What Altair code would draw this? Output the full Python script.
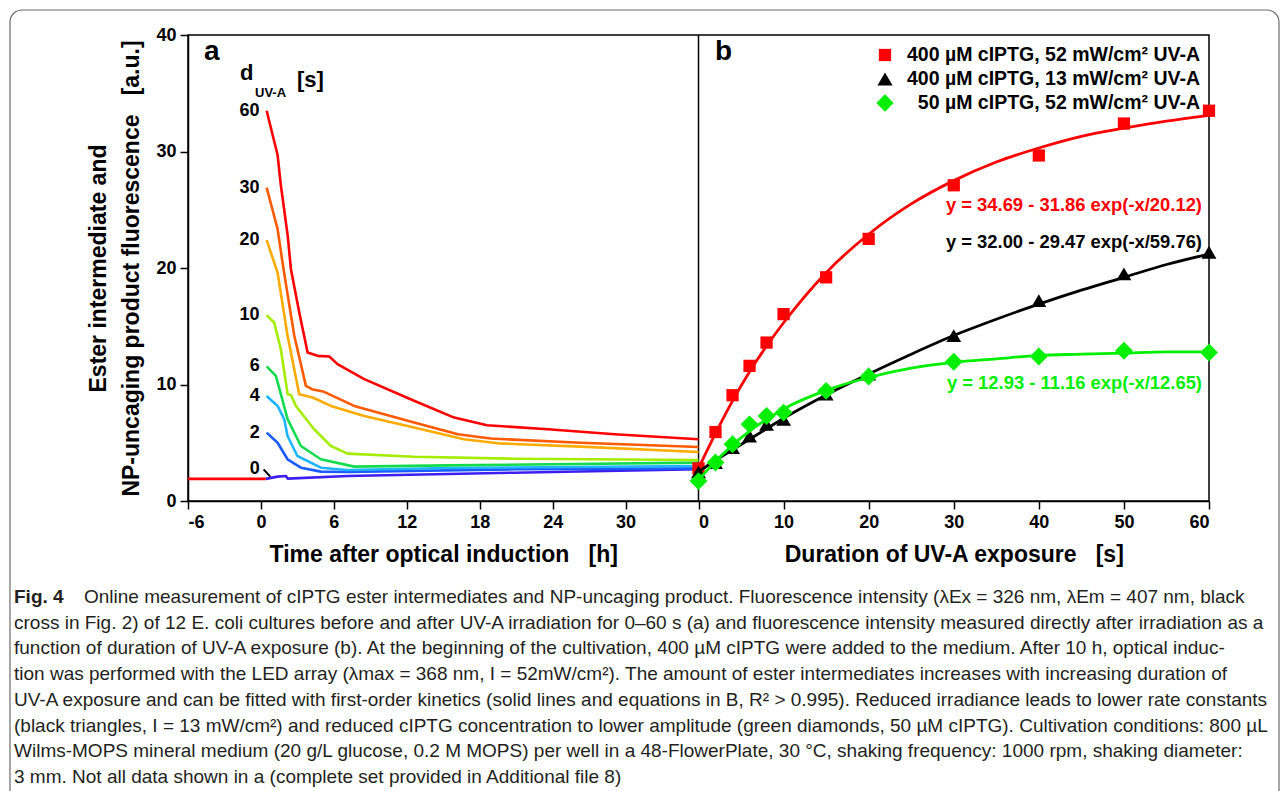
import altair as alt
import pandas as pd

# ---------------- data: panel a (time courses) ----------------
series_names = ["0", "2", "4", "6", "10", "20", "30", "60"]
t_0 = [0.4, 1.37, 2.06, 2.2, 7.13, 20.8, 36.0]
v_0 = [1.9, 2.09, 2.15, 1.92, 2.14, 2.43, 2.72]
t_2 = [0.47, 1.37, 2.19, 3.29, 4.93, 7.13, 20.8, 36.0]
v_2 = [5.87, 5.0, 3.58, 2.86, 2.52, 2.5, 2.72, 2.8]
t_4 = [0.47, 1.37, 1.92, 2.19, 3.0, 4.93, 7.13, 15.35, 36.0]
v_4 = [9.02, 8.16, 7.0, 5.58, 3.86, 2.86, 2.66, 2.83, 3.0]
t_6 = [0.47, 1.23, 1.64, 2.2, 3.29, 4.93, 7.67, 15.35, 36.0]
v_6 = [11.55, 10.74, 9.17, 7.0, 4.72, 3.58, 2.95, 3.06, 3.29]
t_10 = [0.47, 1.1, 1.64, 2.2, 2.47, 2.88, 4.38, 5.76, 7.13, 12.6, 20.8, 36.0]
v_10 = [15.96, 15.3, 13.0, 9.17, 9.1, 8.16, 6.16, 4.72, 4.07, 3.8, 3.63, 3.52]
t_20 = [0.47, 1.37, 2.19, 3.15, 4.25, 5.76, 8.5, 12.6, 16.7, 19.5, 26.3, 36.0]
v_20 = [22.4, 19.6, 14.2, 9.17, 8.88, 8.16, 7.3, 6.3, 5.3, 4.95, 4.67, 4.2]
t_30 = [0.47, 1.37, 1.86, 2.74, 3.7, 4.2, 5.2, 7.67, 12.6, 16.2, 18.9, 26.3, 36.0]
v_30 = [26.9, 23.35, 19.9, 14.2, 9.88, 9.6, 9.37, 8.16, 6.73, 5.73, 5.36, 5.0, 4.63]
t_60 = [0.47, 1.37, 1.64, 2.2, 2.47, 3.15, 3.84, 4.66, 5.62, 6.3, 8.5, 12.6, 15.9, 18.6, 23.6, 29.1, 36.0]
v_60 = [33.5, 29.7, 27.1, 22.8, 19.9, 16.2, 12.75, 12.46, 12.4, 11.75, 10.46, 8.6, 7.16, 6.5, 6.16, 5.73, 5.3]
t_pre = [-6.0, 0.4]
v_pre = [1.9, 1.9]
zero_mark_t = [0.22, 0.77]
zero_mark_v = [2.72, 2.09]

# ---------------- data: panel b (UV-A exposure) ----------------
x_meas = [0, 2, 4, 6, 8, 10, 15, 20, 30, 40, 50, 60]
red_meas = [2.8, 5.92, 9.08, 11.6, 13.6, 16.04, 19.2, 22.5, 27.1, 29.66, 32.4, 33.5]
black_meas = [2.5, 3.3, 4.58, 5.58, 6.58, 7.0, 9.17, 10.9, 14.2, 17.2, 19.5, 21.35]
green_meas = [1.71, 3.3, 4.87, 6.58, 7.3, 7.59, 9.45, 10.69, 11.95, 12.4, 12.9, 12.75]

x_fit = [0, 2, 4, 6, 8, 10, 15, 20, 25, 30, 35, 40, 45, 50, 55, 60]
red_fit = [2.8, 5.8, 8.6, 11.1, 13.3, 15.3, 19.6, 22.9, 25.5, 27.5, 29.1, 30.3, 31.3, 32.0, 32.6, 33.1]
black_fit = [2.5, 3.5, 4.4, 5.3, 6.2, 7.1, 9.1, 10.9, 12.6, 14.2, 15.6, 16.9, 18.1, 19.2, 20.3, 21.2]
green_fit = [1.8, 3.4, 4.8, 6.0, 7.0, 7.9, 9.5, 10.6, 11.4, 11.9, 12.2, 12.5, 12.6, 12.7, 12.8, 12.8]

legend_labels = ["400 µM cIPTG, 52 mW/cm² UV-A",
                 "400 µM cIPTG, 13 mW/cm² UV-A",
                 "50 µM cIPTG, 52 mW/cm² UV-A"]
equations = ["y = 34.69 - 31.86 exp(-x/20.12)",
             "y = 32.00 - 29.47 exp(-x/59.76)",
             "y = 12.93 - 11.16 exp(-x/12.65)"]

caption_lines = [
    "Online measurement of cIPTG ester intermediates and NP-uncaging product. Fluorescence intensity (λEx = 326 nm, λEm = 407 nm, black",
    "cross in Fig. 2) of 12 E. coli cultures before and after UV-A irradiation for 0–60 s (a) and fluorescence intensity measured directly after irradiation as a",
    "function of duration of UV-A exposure (b). At the beginning of the cultivation, 400 µM cIPTG were added to the medium. After 10 h, optical induc-",
    "tion was performed with the LED array (λmax = 368 nm, I = 52mW/cm²). The amount of ester intermediates increases with increasing duration of",
    "UV-A exposure and can be fitted with first-order kinetics (solid lines and equations in B, R² > 0.995). Reduced irradiance leads to lower rate constants",
    "(black triangles, I = 13 mW/cm²) and reduced cIPTG concentration to lower amplitude (green diamonds, 50 µM cIPTG). Cultivation conditions: 800 µL",
    "Wilms-MOPS mineral medium (20 g/L glucose, 0.2 M MOPS) per well in a 48-FlowerPlate, 30 °C, shaking frequency: 1000 rpm, shaking diameter:",
    "3 mm. Not all data shown in a (complete set provided in Additional file 8)",
]

# ---------------- layout constants ----------------
LEFT, TOP = 188, 35
W, H = 1021, 466
SPLIT = 510.5
FONT = "Liberation Sans, Arial, Helvetica, sans-serif"
NB = "\u00a0"

colors = {"0": "#3b1ff0", "2": "#1a5cff", "4": "#1fb4ff", "6": "#12dc4e",
          "10": "#a4ec00", "20": "#ffaa00", "30": "#ff5a00", "60": "#ff0000",
          "pre": "#ff0000"}

one = pd.DataFrame({"k": [0]})
HYPHEN_LABEL = "datum.value < 0 ? '-' + abs(datum.value) : datum.label"

y_enc = alt.Y(
    "v:Q",
    scale=alt.Scale(domain=[0, 40], nice=False, zero=False),
    axis=alt.Axis(values=[0, 10, 20, 30, 40],
                  title=["Ester intermediate and",
                         "NP-uncaging product fluorescence" + NB * 3 + "[a.u.]"],
                  titleX=98 - LEFT, titleY=H / 2, titleAngle=270,
                  titleAlign="center", titleBaseline="middle",
                  titleFontSize=23, titleLineHeight=33, labelPadding=4),
)
xa_enc = alt.X(
    "t:Q",
    scale=alt.Scale(domain=[-6, 36], range=[0, SPLIT], nice=False, zero=False),
    axis=alt.Axis(orient="bottom", values=[-6, 0, 6, 12, 18, 24, 30],
                  labelExpr=HYPHEN_LABEL,
                  title="Time after optical induction" + NB * 3 + "[h]",
                  titleY=60, titleBaseline="alphabetic", titleFontSize=23,
                  labelPadding=4),
)
xb_enc = alt.X(
    "x:Q",
    scale=alt.Scale(domain=[0, 60], range=[SPLIT, W], nice=False, zero=False),
    axis=alt.Axis(orient="bottom", values=[0, 10, 20, 30, 40, 50, 60],
                  title="Duration of UV-A exposure" + NB * 3 + "[s]",
                  titleY=60, titleBaseline="alphabetic", titleFontSize=23,
                  labelPadding=4),
)


def txt(text, x, y, size=18, weight="bold", color="black", align="left",
        baseline="middle", style="normal", font=FONT):
    return alt.Chart(one).mark_text(
        text=text, fontSize=size, fontWeight=weight, color=color, align=align,
        baseline=baseline, fontStyle=style, font=font,
    ).encode(x=alt.value(x - LEFT), y=alt.value(y - TOP))


# ---------------- panel a ----------------
a_series = {"0": (t_0, v_0), "2": (t_2, v_2), "4": (t_4, v_4), "6": (t_6, v_6),
            "10": (t_10, v_10), "20": (t_20, v_20), "30": (t_30, v_30),
            "60": (t_60, v_60), "pre": (t_pre, v_pre)}
a_layers = []
for name, (ts, vs) in a_series.items():
    df = pd.DataFrame({"t": ts, "v": vs})
    a_layers.append(
        alt.Chart(df).mark_line(color=colors[name], strokeWidth=2.6,
                                strokeJoin="round", strokeCap="butt")
        .encode(x=xa_enc, y=y_enc)
    )

lab_df = pd.DataFrame({
    "t": [a_series[n][0][0] for n in series_names if n != "0"],
    "v": [a_series[n][1][0] for n in series_names if n != "0"],
    "lab": [n for n in series_names if n != "0"],
})
a_layers.append(
    alt.Chart(lab_df).mark_text(align="right", baseline="middle", dx=-7,
                                fontSize=18, fontWeight="bold", font=FONT,
                                color="black")
    .encode(x=xa_enc, y=y_enc, text="lab:N")
)
zero_df = pd.DataFrame({"t": [t_0[0]], "v": [v_0[0]], "lab": ["0"]})
a_layers.append(
    alt.Chart(zero_df).mark_text(align="right", baseline="middle", dx=-6, dy=-10,
                                 fontSize=18, fontWeight="bold", font=FONT,
                                 color="black")
    .encode(x=xa_enc, y=y_enc, text="lab:N")
)
zm_df = pd.DataFrame({"t": [zero_mark_t[0]], "t2": [zero_mark_t[1]],
                      "v": [zero_mark_v[0]], "v2": [zero_mark_v[1]]})
a_layers.append(
    alt.Chart(zm_df).mark_rule(color="black", strokeWidth=2)
    .encode(x=xa_enc, x2="t2:Q", y=y_enc, y2="v2:Q")
)
panel_a = alt.layer(*a_layers)

# ---------------- panel b ----------------
b_specs = [
    ("red", red_meas, red_fit, "#ff0000", "square", 150),
    ("black", black_meas, black_fit, "#000000", "triangle-up", 220),
    ("green", green_meas, green_fit, "#00ee00", "diamond", 320),
]
b_layers = []
for name, meas, fit, col, shape, size in b_specs:
    fdf = pd.DataFrame({"x": x_fit, "v": fit})
    mdf = pd.DataFrame({"x": x_meas, "v": meas})
    b_layers.append(
        alt.Chart(fdf).mark_line(color=col, strokeWidth=2.8, interpolate="monotone")
        .encode(x=xb_enc, y=y_enc)
    )
    b_layers.append(
        alt.Chart(mdf).mark_point(shape=shape, filled=True, size=size, color=col,
                                  opacity=1, strokeWidth=0)
        .encode(x=xb_enc, y=y_enc)
    )
panel_b = alt.layer(*b_layers)

# ---------------- annotations ----------------
ann = []
# outer rounded frame
ann.append(
    alt.Chart(one).mark_rect(filled=False, stroke="#6b6b6b", strokeWidth=1.2,
                             cornerRadius=12)
    .encode(x=alt.value(10 - LEFT), x2=alt.value(1279 - LEFT),
            y=alt.value(10 - TOP), y2=alt.value(820 - TOP))
)
# panel divider
ann.append(
    alt.Chart(one).mark_rule(color="black", strokeWidth=1.5)
    .encode(x=alt.value(SPLIT), y=alt.value(0), y2=alt.value(H))
)
top = []
top.append(txt("a", 204, 52, size=28))
top.append(txt("b", 715, 52, size=28))
top.append(txt("d", 240, 80, size=22, baseline="alphabetic"))
top.append(txt("UV-A", 255, 97, size=13, baseline="alphabetic"))
top.append(txt("[s]", 297, 87, size=22, baseline="alphabetic"))

leg_y = [55, 79, 103]
leg_shapes = [("square", "#ff0000", 150), ("triangle-up", "#000000", 230),
              ("diamond", "#00ee00", 300)]
for yy, lab, (shp, col, sz) in zip(leg_y, legend_labels, leg_shapes):
    top.append(
        alt.Chart(one).mark_point(shape=shp, filled=True, size=sz, color=col,
                                  opacity=1, strokeWidth=0)
        .encode(x=alt.value(885 - LEFT), y=alt.value(yy - TOP))
    )
    top.append(txt(lab, 1200, yy, size=19.5, align="right"))

eq_pos = [(205, "#ff0000"), (242, "#000000"), (383, "#00ee00")]
for eq, (yy, col) in zip(equations, eq_pos):
    top.append(txt(eq, 1202, yy, size=18.4, align="right", color=col))

# caption
CAP_FONT = "Liberation Sans, Arial, sans-serif"
CAP_SIZE = 19
cap_y0, cap_dy = 597, 25.7
top.append(txt("Fig. 4", 14, cap_y0, size=CAP_SIZE, weight="bold",
               color="#231f20", font=CAP_FONT))
for i, line in enumerate(caption_lines):
    x0 = 84 if i == 0 else 14
    top.append(txt(line, x0, cap_y0 + i * cap_dy, size=CAP_SIZE,
                   weight="normal", color="#231f20", font=CAP_FONT))

chart = alt.layer(*ann, panel_a, panel_b, *top).resolve_scale(
    x="independent"
).properties(
    width=W, height=H,
    autosize=alt.AutoSizeParams(type="none"),
    padding={"left": LEFT, "top": TOP, "right": 1282 - LEFT - W,
             "bottom": 791 - TOP - H},
    background="white",
).configure_view(
    stroke="black", strokeWidth=1.5
).configure_axis(
    grid=False, domainColor="black", domainWidth=1.5, tickColor="black",
    tickWidth=1.5, tickSize=8, labelFont=FONT, labelFontSize=18,
    labelFontWeight="bold", labelColor="black", titleFont=FONT,
    titleFontWeight="bold", titleColor="black",
)

chart.save("out.html", embed_options={"renderer": "svg", "actions": False})
